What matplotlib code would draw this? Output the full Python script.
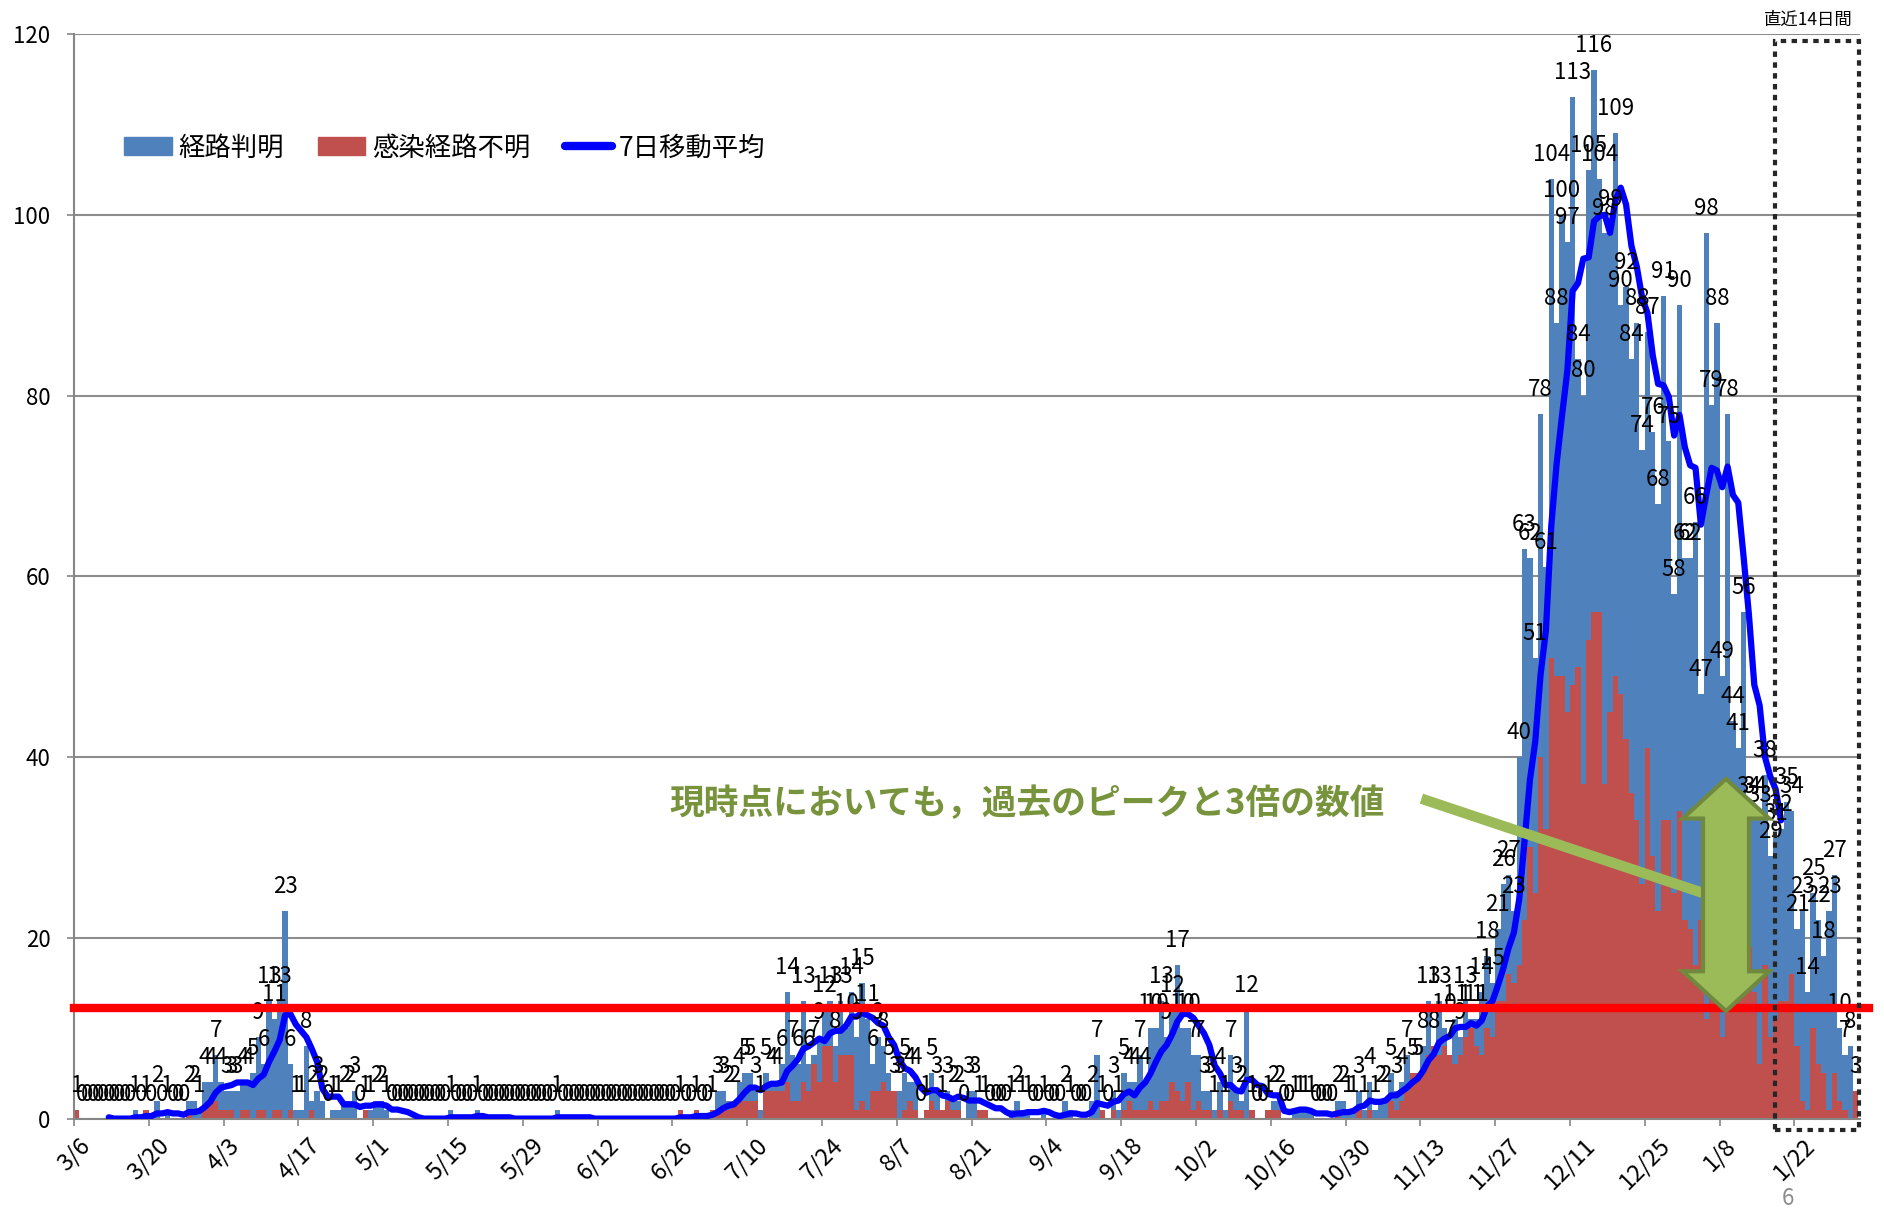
import numpy as np
import pandas as pd
import matplotlib
matplotlib.use("Agg")
import matplotlib.pyplot as plt
from matplotlib.patches import Patch, Polygon, Rectangle
from matplotlib.lines import Line2D

plt.rcParams['font.family'] = ['Noto Sans CJK JP', 'DejaVu Sans']

# daily totals, one row per 14 days (each row starts at an x tick, 3/6 .. 1/22)
totals = [
    1, 0, 0, 0, 0, 0, 0, 0, 0, 0, 0, 1, 0, 1,
    0, 2, 0, 1, 0, 0, 0, 2, 2, 1, 4, 4, 7, 4,
    3, 3, 3, 4, 4, 5, 9, 6, 13, 11, 13, 23, 6, 1,
    1, 8, 2, 3, 2, 0, 1, 1, 2, 2, 3, 0, 1, 1,
    2, 2, 1, 0, 0, 0, 0, 0, 0, 0, 0, 0, 0, 0,
    1, 0, 0, 0, 0, 1, 0, 0, 0, 0, 0, 0, 0, 0,
    0, 0, 0, 0, 0, 0, 1, 0, 0, 0, 0, 0, 0, 0,
    0, 0, 0, 0, 0, 0, 0, 0, 0, 0, 0, 0, 0, 0,
    0, 1, 0, 0, 1, 0, 0, 1, 3, 3, 2, 2, 4, 5,
    5, 3, 1, 5, 4, 4, 6, 14, 7, 6, 13, 6, 7, 9,
    12, 13, 8, 13, 10, 14, 9, 15, 11, 6, 9, 8, 5, 3,
    3, 5, 4, 4, 0, 1, 5, 3, 1, 3, 2, 2, 0, 3,
    3, 1, 1, 0, 0, 0, 0, 1, 2, 1, 1, 0, 0, 1,
    0, 0, 0, 2, 1, 0, 0, 0, 2, 7, 1, 0, 3, 1,
    5, 4, 4, 7, 4, 10, 10, 13, 9, 12, 17, 10, 10, 7,
    7, 3, 3, 1, 4, 1, 7, 3, 2, 12, 1, 0, 0, 1,
    2, 2, 0, 0, 1, 1, 1, 1, 0, 0, 0, 0, 2, 2,
    1, 1, 3, 1, 4, 1, 2, 2, 5, 3, 4, 7, 5, 5,
    8, 13, 8, 13, 10, 7, 11, 9, 13, 11, 11, 14, 18, 15,
    21, 26, 27, 23, 40, 63, 62, 51, 78, 61, 104, 88, 100, 97,
    113, 84, 80, 105, 116, 104, 98, 99, 109, 90, 92, 84, 88, 74,
    87, 76, 68, 91, 75, 58, 90, 62, 62, 66, 47, 98, 79, 88,
    49, 78, 44, 41, 56, 34, 34, 33, 38, 29, 31, 32, 35, 34,
    21, 23, 14, 25, 22, 18, 23, 27, 10, 7, 8, 3,
]

# 感染経路不明 part of each day
unknown = [
    1, 0, 0, 0, 0, 0, 0, 0, 0, 0, 0, 0, 0, 1,
    0, 0, 0, 0, 0, 0, 0, 1, 0, 0, 1, 2, 2, 1,
    1, 1, 0, 1, 1, 0, 1, 1, 0, 1, 1, 0, 1, 0,
    0, 0, 1, 0, 0, 0, 0, 0, 0, 0, 0, 0, 1, 0,
    0, 0, 0, 0, 0, 0, 0, 0, 0, 0, 0, 0, 0, 0,
    0, 0, 0, 0, 0, 0, 0, 0, 0, 0, 0, 0, 0, 0,
    0, 0, 0, 0, 0, 0, 0, 0, 0, 0, 0, 0, 0, 0,
    0, 0, 0, 0, 0, 0, 0, 0, 0, 0, 0, 0, 0, 0,
    0, 1, 0, 0, 1, 0, 0, 1, 1, 1, 1, 2, 2, 2,
    2, 2, 0, 3, 3, 3, 3, 4, 2, 2, 4, 3, 6, 4,
    8, 8, 4, 7, 7, 7, 1, 2, 1, 3, 3, 4, 3, 3,
    0, 1, 2, 1, 0, 1, 2, 1, 1, 2, 1, 1, 0, 0,
    0, 1, 1, 0, 0, 0, 0, 0, 0, 0, 0, 0, 0, 0,
    0, 0, 0, 0, 0, 0, 0, 0, 0, 0, 1, 0, 1, 0,
    1, 2, 1, 1, 1, 2, 1, 2, 2, 4, 3, 2, 4, 1,
    2, 1, 1, 0, 1, 0, 2, 1, 1, 0, 1, 0, 0, 1,
    1, 1, 0, 0, 0, 0, 0, 0, 0, 0, 0, 0, 1, 0,
    0, 0, 1, 0, 1, 0, 0, 0, 2, 1, 2, 3, 5, 5,
    5, 7, 8, 7, 8, 7, 6, 7, 9, 10, 8, 7, 10, 9,
    13, 13, 16, 15, 17, 22, 30, 25, 40, 32, 51, 49, 49, 45,
    48, 50, 37, 53, 56, 56, 37, 45, 49, 47, 42, 36, 33, 26,
    41, 29, 23, 33, 33, 25, 34, 22, 21, 17, 22, 11, 21, 16,
    9, 21, 18, 19, 16, 19, 14, 6, 17, 9, 11, 13, 13, 16,
    8, 2, 1, 10, 6, 5, 1, 5, 2, 1, 0, 3,
]

tick_labels = ['3/6', '3/20', '4/3', '4/17', '5/1', '5/15', '5/29', '6/12',
               '6/26', '7/10', '7/24', '8/7', '8/21', '9/4', '9/18', '10/2',
               '10/16', '10/30', '11/13', '11/27', '12/11', '12/25', '1/8', '1/22']

legend_labels = ['経路判明', '感染経路不明', '7日移動平均']
note_text = '現時点においても，過去のピークと3倍の数値'
box_text = '直近14日間'
threshold = 12.2       # red reference line
ma_last_day = 319      # moving average drawn up to 1/19

df = pd.DataFrame({'total': totals, 'unknown': unknown})
df['known'] = df['total'] - df['unknown']
df['ma'] = df['total'].rolling(7).mean()
days = np.arange(len(df))

fig = plt.figure(figsize=(18.84, 12.11), dpi=100)
ax = fig.add_axes([0.0393, 0.0763, 0.948, 0.8956])

ax.bar(days, df['unknown'], width=1.0, color='#C0504D', linewidth=0, zorder=2)
ax.bar(days, df['known'], width=1.0, bottom=df['unknown'], color='#4F81BD',
       linewidth=0, zorder=2)

ma = df['ma'].iloc[:ma_last_day + 1]
ax.plot(days[:ma_last_day + 1], ma, color='#0000FF', lw=4.5,
        solid_capstyle='round', solid_joinstyle='round', zorder=3)

for d, v in zip(days, df['total']):
    ax.annotate(str(v), (d, v), xytext=(0, 13), textcoords='offset points',
                ha='center', va='baseline', fontsize=16, zorder=4)

ax.axhline(threshold, xmin=0, xmax=1.005, color='#FF0000', lw=6, zorder=5,
           clip_on=False)

ax.set_xlim(-0.5, 333.8)
ax.set_ylim(0, 120)
ax.set_yticks(range(0, 121, 20))
ax.set_xticks(np.arange(0, len(days), 14) - 0.5)
ax.set_xticklabels(tick_labels, rotation=45)
ax.tick_params(axis='y', labelsize=16, length=5, width=1.2, color='#868686', pad=12)
ax.tick_params(axis='x', labelsize=17, length=5, width=1.2, color='#868686', pad=6)
ax.yaxis.grid(True, color='#8C8C8C', lw=1.5, zorder=0)
ax.set_axisbelow(True)
for s in ['top', 'right']:
    ax.spines[s].set_visible(False)
for s in ['left', 'bottom']:
    ax.spines[s].set_color('#868686')
    ax.spines[s].set_linewidth(1.5)

handles = [Patch(color='#4F81BD'), Patch(color='#C0504D'),
           Line2D([0], [0], color='#0000FF', lw=6, solid_capstyle='round')]
ax.legend(handles, legend_labels, loc='center left', bbox_to_anchor=(0.028, 0.895),
          ncol=3, frameon=False, fontsize=19, handlelength=1.8, handleheight=0.65,
          handletextpad=0.25, columnspacing=1.3, borderpad=0, borderaxespad=0)

# annotation: text, pointer line and double arrow
ax.text(110.9, 34.9, note_text, color='#77933C', fontsize=25, fontweight='bold',
        ha='left', va='center', zorder=6)
ax.plot([251.7, 305.2], [35.4, 24.8], color='#9BBB59', lw=7.5, zorder=6,
        solid_capstyle='butt')
cx, sw, hw, y0, y1, hl = 308.7, 4.3, 8.1, 11.9, 37.6, 4.4
arrow = Polygon([(cx, y1), (cx + hw, y1 - hl), (cx + sw, y1 - hl), (cx + sw, y0 + hl),
                 (cx + hw, y0 + hl), (cx, y0), (cx - hw, y0 + hl), (cx - sw, y0 + hl),
                 (cx - sw, y1 - hl), (cx - hw, y1 - hl)], closed=True,
                facecolor='#9BBB59', edgecolor='#71893F', lw=3, zorder=7)
ax.add_patch(arrow)

# last 14 days frame
box = Rectangle((317.9, -1.3), 15.7, 120.5, fill=False, edgecolor='#262626', lw=3,
                linestyle=(0, (1.3, 1.3)), clip_on=False, zorder=6)
ax.add_patch(box)
fig.text(0.9597, 0.9835, box_text, fontsize=12.5, ha='center', va='center')
fig.text(0.949, 0.001, '6', fontsize=16, color='#8C8C8C', ha='center', va='bottom')

fig.savefig('out.png', dpi=100)
